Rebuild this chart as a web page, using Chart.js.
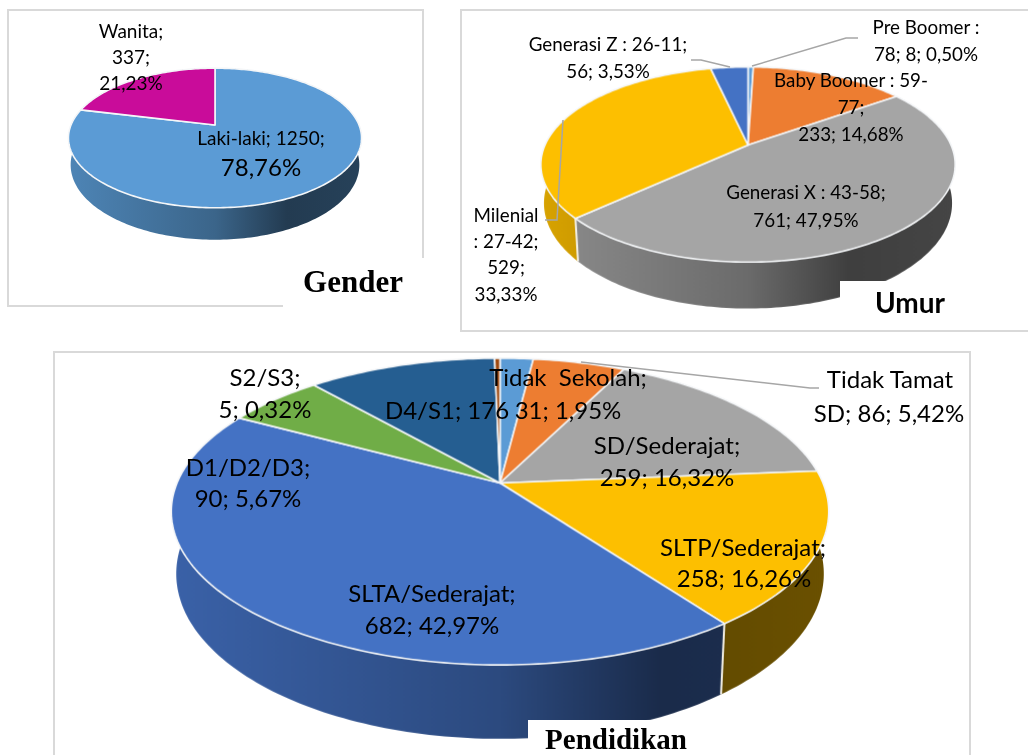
<!DOCTYPE html>
<html>
<head>
<meta charset="utf-8">
<script src="https://cdn.jsdelivr.net/npm/chart.js@4"></script>
<style>
    html, body { margin: 0; padding: 0; background: #fff; }
    #page { position: relative; width: 1028px; height: 755px; overflow: hidden; background: #fff; }
    #page canvas { position: absolute; }
    .panel { position: absolute; border: 2px solid #d9d9d9; box-sizing: border-box; }
    .cover { position: absolute; background: #fff; }
    .lbl { position: absolute; white-space: pre; transform: translate(-50%, -50%); color: #000; font-family: Lato, sans-serif; line-height: 1; }
    svg { position: absolute; left: 0; top: 0; }
</style>
</head>
<body>
<div id="page">
    <div class="panel" style="left:7px;top:9px;width:417px;height:298px"></div>
    <div class="panel" style="left:460px;top:9px;width:600px;height:323px"></div>
    <div class="panel" style="left:53px;top:351px;width:918px;height:440px"></div>
    <canvas id="genderChart"></canvas>
    <canvas id="umurChart"></canvas>
    <canvas id="pendidikanChart"></canvas>
    <div class="cover" style="left:283px;top:258px;width:142px;height:50px"></div>
    <div class="cover" style="left:840px;top:281px;width:188px;height:49px"></div>
    <div class="cover" style="left:528px;top:720px;width:175px;height:35px"></div>
    <svg id="leaders" width="1028" height="755"></svg>
</div>

<script>
const genderCategories = ['Laki-laki', 'Wanita'];
const genderValues = [1250, 337];
const genderColors = ['#5b9bd5', '#c90c9a'];

const umurCategories = ['Pre Boomer', 'Baby Boomer', 'Generasi X', 'Milenial', 'Generasi Z'];
const umurValues = [8, 233, 761, 529, 56];
const umurColors = ['#5b9bd5', '#ed7d31', '#a5a5a5', '#fdbf00', '#4472c4'];

const pendidikanCategories = ['Tidak Sekolah', 'Tidak Tamat SD', 'SD/Sederajat', 'SLTP/Sederajat', 'SLTA/Sederajat', 'D1/D2/D3', 'D4/S1', 'S2/S3'];
const pendidikanValues = [31, 86, 259, 258, 682, 90, 176, 5];
const pendidikanColors = ['#5b9bd5', '#ed7d31', '#a5a5a5', '#fdbf00', '#4472c4', '#70ad47', '#255e91', '#9e480e'];

// text, centre x, centre y, font size
const labels = [
    ['Wanita;', 131, 30, 19], ['337;', 131, 56, 19], ['21,23%', 131, 82, 19],
    ['Laki-laki; 1250;', 261, 137, 19], ['78,76%', 261, 167, 24],

    ['Pre Boomer :', 926, 27, 18.8], ['78; 8; 0,50%', 926, 54, 18.8],
    ['Generasi Z : 26-11;', 608, 44, 18.8], ['56; 3,53%', 608, 71, 18.8],
    ['Baby Boomer : 59-', 851, 80, 18.8], ['77;', 851, 107, 18.8], ['233; 14,68%', 851, 134, 18.8],
    ['Generasi X : 43-58;', 806, 192, 18.8], ['761; 47,95%', 806, 220, 18.8],
    ['Milenial', 506, 215, 18.8], [': 27-42;', 506, 241, 18.8], ['529;', 506, 267, 18.8], ['33,33%', 506, 294, 18.8],

    ['S2/S3;', 265, 377, 24], ['5; 0,32%', 265, 409, 24],
    ['D1/D2/D3;', 248, 467, 24], ['90; 5,67%', 248, 498, 24],
    ['D4/S1; 176', 447, 410, 24],
    ['Tidak  Sekolah;', 568, 377, 24], ['31; 1,95%', 568, 410, 24],
    ['Tidak Tamat', 890, 379, 24], ['SD; 86; 5,42%', 889, 413, 24],
    ['SD/Sederajat;', 667, 445, 24], ['259; 16,32%', 667, 477, 24],
    ['SLTP/Sederajat;', 743, 547, 24], ['258; 16,26%', 744, 578, 24],
    ['SLTA/Sederajat;', 432, 593, 24], ['682; 42,97%', 432, 625, 24]
];

const titles = [
    ['Gender', 353, 282, 'bold 31px "Liberation Serif"'],
    ['Umur', 910, 302, 'bold 28px Lato'],
    ['Pendidikan', 616, 739, 'bold 29px "Liberation Serif"']
];

const leaderLines = [
    '752,66 846,38 858,38',
    '691,60 701,60 730,67',
    '563,120 557,220 545,220',
    '581,362 810,388 819,388'
];

function shade(hex, f) {
    const n = parseInt(hex.slice(1), 16);
    const r = Math.round((n >> 16) * f), g = Math.round(((n >> 8) & 255) * f), b = Math.round((n & 255) * f);
    return `rgb(${r},${g},${b})`;
}

// draws the arcs of the doughnut controller with a perspective tilt and a side wall
const tiltPlugin = {
    id: 'tilt',
    beforeDatasetsDraw(chart, args, opts) {
        const ctx = chart.ctx;
        const arcs = chart.getDatasetMeta(0).data;

        const project = (arc, a, extrude) => {
            const w = 1 - opts.persp * Math.sin(a);
            const narrow = extrude ? 0.985 : 1;
            return [
                arc.x + narrow * arc.outerRadius * Math.cos(a) / w,
                arc.y + arc.outerRadius * opts.squash * Math.sin(a) / w + (extrude ? opts.depth / w : 0)
            ];
        };
        const angles = (arc) => {
            const n = Math.max(2, Math.ceil((arc.endAngle - arc.startAngle) / 0.02));
            const out = [];
            for (let i = 0; i <= n; i++) out.push(arc.startAngle + (arc.endAngle - arc.startAngle) * i / n);
            return out;
        };

        arcs.forEach(arc => {
            const color = arc.options.backgroundColor;
            const g = ctx.createLinearGradient(arc.x - arc.outerRadius, 0, arc.x + arc.outerRadius, 0);
            g.addColorStop(0, shade(color, 0.85));
            g.addColorStop(0.5, shade(color, 0.65));
            g.addColorStop(0.75, shade(color, 0.38));
            g.addColorStop(1, shade(color, 0.42));
            const list = angles(arc);
            ctx.beginPath();
            list.forEach((a, i) => {
                const p = project(arc, a, false);
                i ? ctx.lineTo(p[0], p[1]) : ctx.moveTo(p[0], p[1]);
            });
            list.slice().reverse().forEach(a => {
                const p = project(arc, a, true);
                ctx.lineTo(p[0], p[1]);
            });
            ctx.closePath();
            ctx.fillStyle = g;
            ctx.fill();
        });

        // seams between slices on the wall
        arcs.forEach(arc => {
            if (Math.sin(arc.startAngle) < 0.1) return;
            const p = project(arc, arc.startAngle, false), q = project(arc, arc.startAngle, true);
            ctx.beginPath();
            ctx.moveTo(p[0], p[1]);
            ctx.lineTo(q[0], q[1]);
            ctx.strokeStyle = '#f2efe6';
            ctx.lineWidth = 2;
            ctx.stroke();
        });

        arcs.forEach(arc => {
            ctx.beginPath();
            ctx.moveTo(arc.x, arc.y);
            angles(arc).forEach(a => {
                const p = project(arc, a, false);
                ctx.lineTo(p[0], p[1]);
            });
            ctx.closePath();
            ctx.fillStyle = arc.options.backgroundColor;
            ctx.fill();
            ctx.strokeStyle = '#f4f6f8';
            ctx.lineWidth = 1.6;
            ctx.lineJoin = 'round';
            ctx.stroke();
        });
        return false;
    }
};

function createPie(id, categories, values, colors, apexX, apexY, radius, tilt) {
    const pad = 10;
    const canvas = document.getElementById(id);
    const side = 2 * (radius + pad);
    canvas.width = side;
    canvas.height = side;
    canvas.style.width = side + 'px';
    canvas.style.height = side + 'px';
    canvas.style.left = (apexX - radius - pad) + 'px';
    canvas.style.top = (apexY - radius - pad) + 'px';

    new Chart(canvas, {
        type: 'pie',
        data: {
            labels: categories,
            datasets: [{
                data: values,
                backgroundColor: colors,
                borderWidth: 0,
                hoverOffset: 0
            }]
        },
        options: {
            responsive: false,
            animation: false,
            layout: { padding: pad },
            plugins: {
                legend: { display: false },
                tooltip: { enabled: false },
                tilt: tilt
            }
        },
        plugins: [tiltPlugin]
    });
}

createPie('genderChart', genderCategories, genderValues, genderColors, 215, 125, 144.4, { persp: 0.186, squash: 0.468, depth: 26 });
createPie('umurChart', umurCategories, umurValues, umurColors, 748, 145, 202.8, { persp: 0.2, squash: 0.4615, depth: 37 });
createPie('pendidikanChart', pendidikanCategories, pendidikanValues, pendidikanColors, 500, 483, 322.8, { persp: 0.186, squash: 0.4585, depth: 60 });

const page = document.getElementById('page');
labels.forEach(l => {
    const d = document.createElement('div');
    d.className = 'lbl';
    d.textContent = l[0];
    d.style.left = l[1] + 'px';
    d.style.top = l[2] + 'px';
    d.style.fontSize = l[3] + 'px';
    page.appendChild(d);
});
titles.forEach(t => {
    const d = document.createElement('div');
    d.className = 'lbl';
    d.textContent = t[0];
    d.style.left = t[1] + 'px';
    d.style.top = t[2] + 'px';
    d.style.font = t[3];
    page.appendChild(d);
});

const svg = document.getElementById('leaders');
leaderLines.forEach(pts => {
    const line = document.createElementNS('http://www.w3.org/2000/svg', 'polyline');
    line.setAttribute('points', pts);
    line.setAttribute('fill', 'none');
    line.setAttribute('stroke', '#a6a6a6');
    line.setAttribute('stroke-width', '1.5');
    svg.appendChild(line);
});
</script>
</body>
</html>
